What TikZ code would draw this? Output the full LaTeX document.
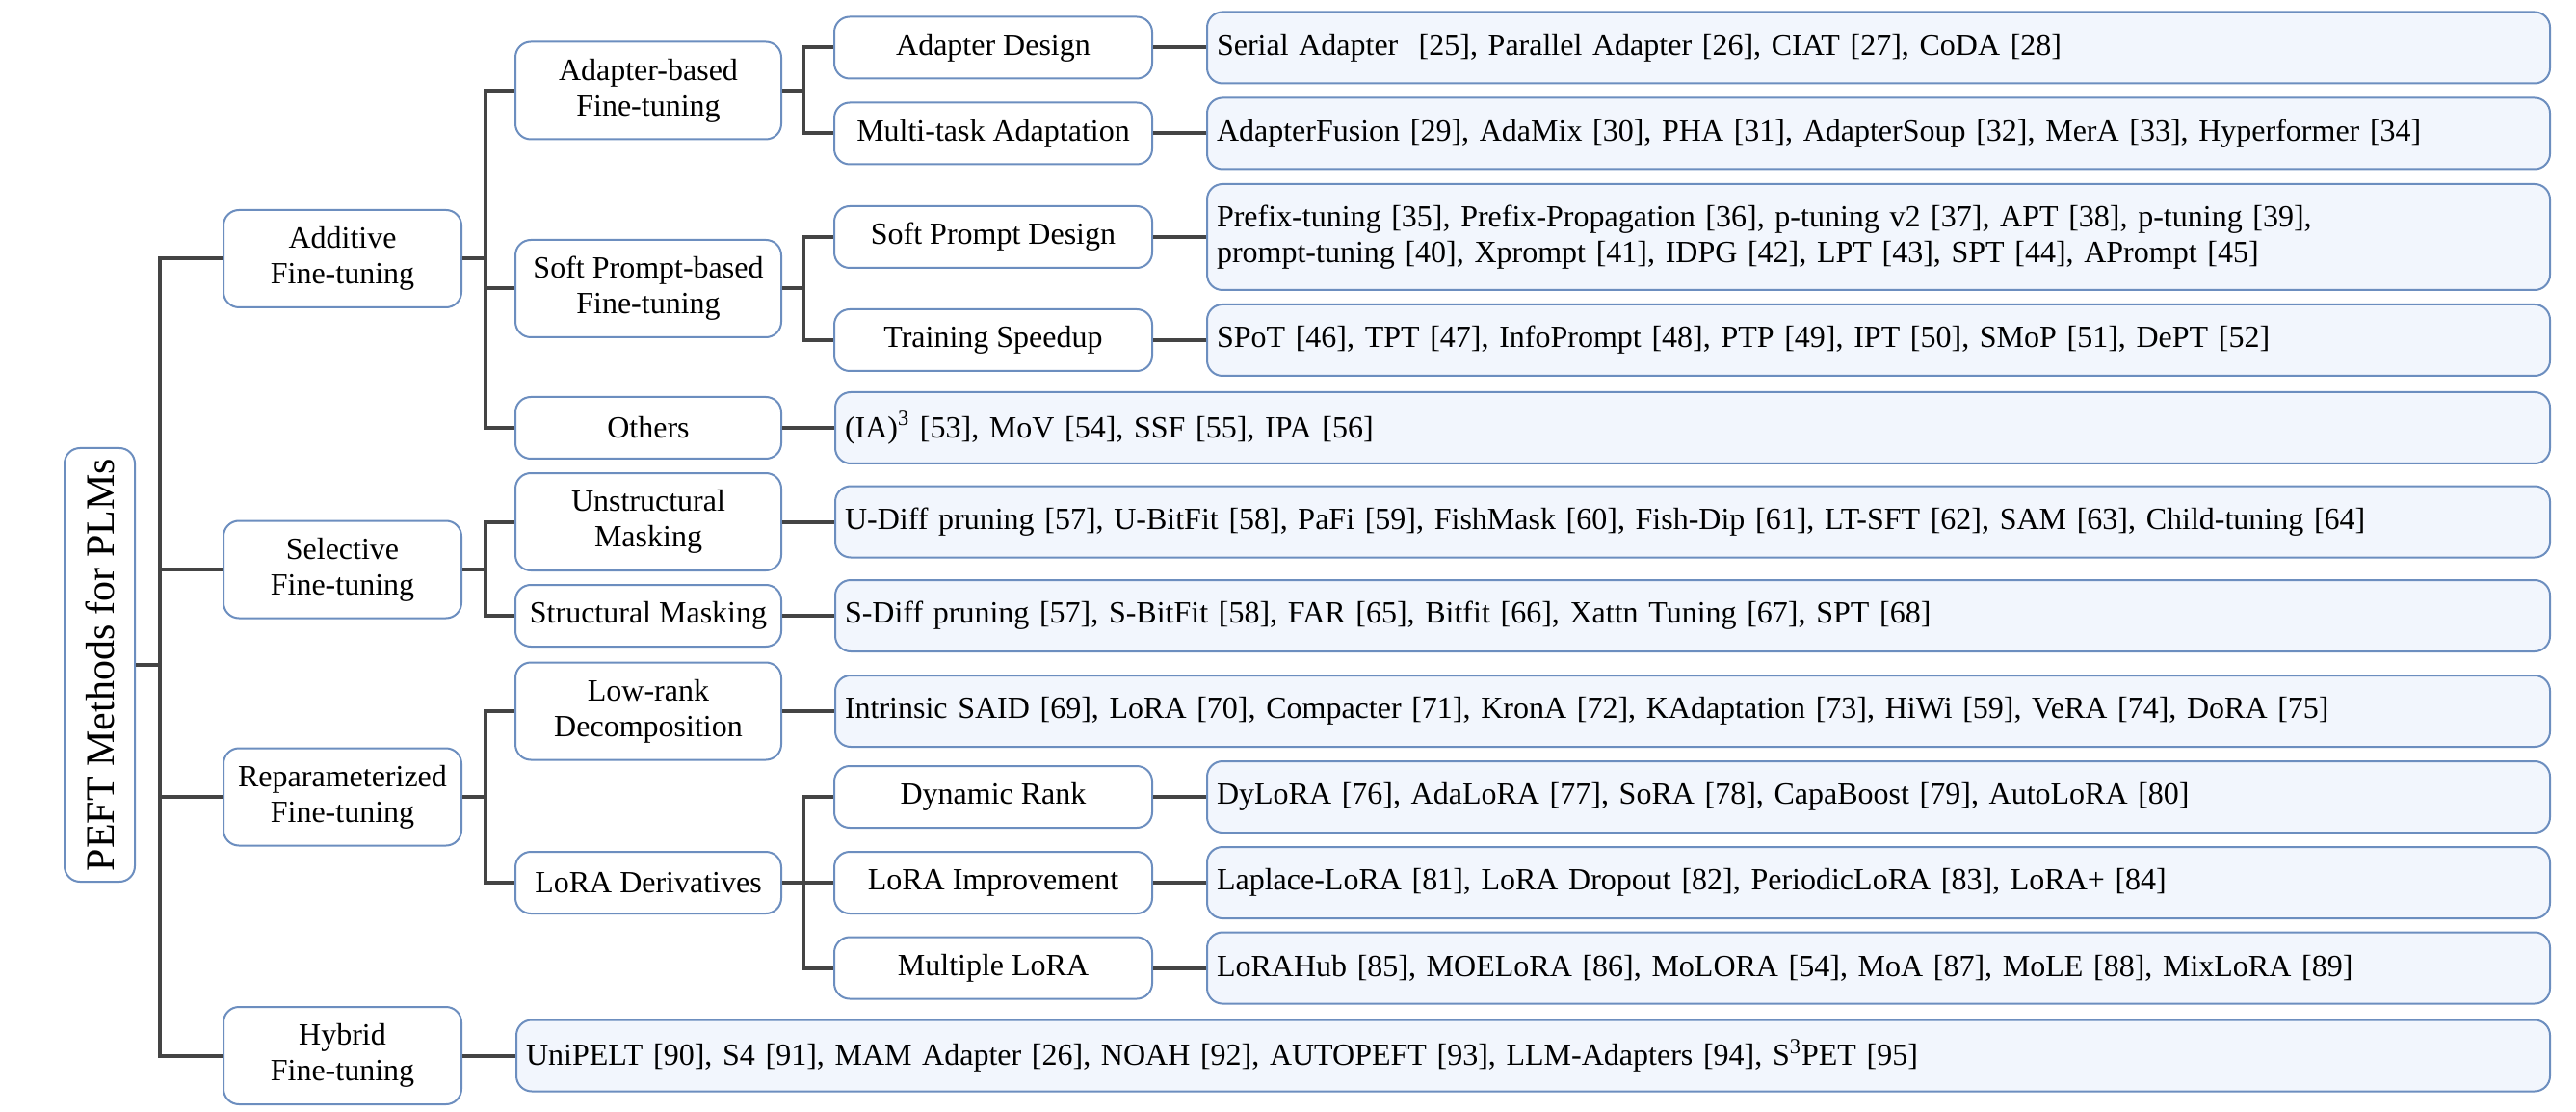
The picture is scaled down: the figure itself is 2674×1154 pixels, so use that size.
\documentclass[tikz,border=0pt]{standalone}
\usepackage{fontspec}
\setmainfont{Liberation Serif}
\definecolor{boxblue}{HTML}{6C8EBF}
\definecolor{leafbg}{HTML}{F2F6FD}
\definecolor{linkgray}{HTML}{444444}

\begin{document}
\begin{tikzpicture}[
        x=0.5pt, y=-0.5pt,
        font=\fontsize{16}{18.4}\selectfont,
        box/.style={draw=boxblue, line width=1pt, rounded corners=8pt, fill=white, align=center, inner sep=0pt},
        root/.style={box, rotate=90, minimum width=225pt, minimum height=36.5pt, font=\fontsize{21}{24}\selectfont},
        cat/.style={box, minimum width=123.5pt, minimum height=50.5pt},
        sub/.style={box, minimum width=138pt, minimum height=#1},
        sub/.default=50.5pt,
        subsub/.style={box, minimum width=165pt, minimum height=32pt},
        leaf/.style={box, fill=leafbg, anchor=west, align=left, inner xsep=5pt, text width=#1, minimum height=37pt},
        link/.style={draw=linkgray, line width=2pt},
    ]
    \useasboundingbox (0,0) rectangle (2674,1154);

    % 根节点
    \node[root] (root) at (103.5,690) {PEFT Methods for PLMs};

    % 第一层
    \node[cat] (add) at (355.5,268.5) {Additive\\Fine-tuning};
    \node[cat] (sel) at (355.5,591) {Selective\\Fine-tuning};
    \node[cat] (rep) at (355.5,827) {Reparameterized\\Fine-tuning};
    \node[cat] (hyb) at (355.5,1095.5) {Hybrid\\Fine-tuning};

    % 第二层
    \node[sub] (adb) at (673,94) {Adapter-based\\Fine-tuning};
    \node[sub] (spb) at (673,299.5) {Soft Prompt-based\\Fine-tuning};
    \node[sub=32pt] (oth) at (673,444) {Others};
    \node[sub] (unm) at (673,541.5) {Unstructural\\Masking};
    \node[sub=32pt] (stm) at (673,639) {Structural Masking};
    \node[sub] (lrd) at (673,738) {Low-rank\\Decomposition};
    \node[sub=32pt] (lod) at (673,916) {LoRA Derivatives};

    % 第三层
    \node[subsub] (ad) at (1031,49.5) {Adapter Design};
    \node[subsub] (mta) at (1031,138.5) {Multi-task Adaptation};
    \node[subsub] (spd) at (1031,246) {Soft Prompt Design};
    \node[subsub] (tsu) at (1031,353) {Training Speedup};
    \node[subsub] (dyr) at (1031,827) {Dynamic Rank};
    \node[subsub] (lim) at (1031,916) {LoRA Improvement};
    \node[subsub] (mlr) at (1031,1004.5) {Multiple LoRA};

    % 方法列表
    \node[leaf=687pt] (ad-l) at (1252,49.5) {Serial Adapter~ [25], Parallel Adapter [26], CIAT [27], CoDA [28]};
    \node[leaf=687pt] (mta-l) at (1252,138.5) {AdapterFusion [29], AdaMix [30], PHA [31], AdapterSoup [32], MerA [33], Hyperformer [34]};
    \node[leaf=687pt, minimum height=55pt] (spd-l) at (1252,246) {Prefix-tuning [35], Prefix-Propagation [36], p-tuning v2 [37], APT [38], p-tuning [39],\\prompt-tuning [40], Xprompt [41], IDPG [42], LPT [43], SPT [44], APrompt [45]};
    \node[leaf=687pt] (tsu-l) at (1252,353) {SPoT [46], TPT [47], InfoPrompt [48], PTP [49], IPT [50], SMoP [51], DePT [52]};
    \node[leaf=880pt] (oth-l) at (866,444) {(IA)\textsuperscript{3} [53], MoV [54], SSF [55], IPA [56]};
    \node[leaf=880pt] (unm-l) at (866,541.5) {U-Diff pruning [57], U-BitFit [58], PaFi [59], FishMask [60], Fish-Dip [61], LT-SFT [62], SAM [63], Child-tuning [64]};
    \node[leaf=880pt] (stm-l) at (866,639) {S-Diff pruning [57], S-BitFit [58], FAR [65], Bitfit [66], Xattn Tuning [67], SPT [68]};
    \node[leaf=880pt] (lrd-l) at (866,738) {Intrinsic SAID [69], LoRA [70], Compacter [71], KronA [72], KAdaptation [73], HiWi [59], VeRA [74], DoRA [75]};
    \node[leaf=687pt] (dyr-l) at (1252,827) {DyLoRA [76], AdaLoRA [77], SoRA [78], CapaBoost [79], AutoLoRA [80]};
    \node[leaf=687pt] (lim-l) at (1252,916) {Laplace-LoRA [81], LoRA Dropout [82], PeriodicLoRA [83], LoRA+ [84]};
    \node[leaf=687pt] (mlr-l) at (1252,1004.5) {LoRAHub [85], MOELoRA [86], MoLORA [54], MoA [87], MoLE [88], MixLoRA [89]};
    \node[leaf=1045.5pt] (hyb-l) at (535,1095.5) {UniPELT [90], S4 [91], MAM Adapter [26], NOAH [92], AUTOPEFT [93], LLM-Adapters [94], S\textsuperscript{3}PET [95]};

    % 连接:根 -> 第一层
    \foreach \c in {add,sel,rep,hyb}
        \draw[link] (root.south) -- ++(25,0) |- (\c.west);

    % 连接:第一层 -> 第二层
    \foreach \c in {adb,spb,oth}
        \draw[link] (add.east) -- ++(24,0) |- (\c.west);
    \foreach \c in {unm,stm}
        \draw[link] (sel.east) -- ++(24,0) |- (\c.west);
    \foreach \c in {lrd,lod}
        \draw[link] (rep.east) -- ++(24,0) |- (\c.west);
    \draw[link] (hyb.east) -- (hyb-l.west);

    % 连接:第二层 -> 第三层
    \foreach \c in {ad,mta}
        \draw[link] (adb.east) -- ++(22,0) |- (\c.west);
    \foreach \c in {spd,tsu}
        \draw[link] (spb.east) -- ++(22,0) |- (\c.west);
    \foreach \c in {dyr,lim,mlr}
        \draw[link] (lod.east) -- ++(22,0) |- (\c.west);

    % 连接:到方法列表
    \foreach \c in {ad,mta,spd,tsu,oth,unm,stm,lrd,dyr,lim,mlr}
        \draw[link] (\c.east) -- (\c-l.west);

\end{tikzpicture}
\end{document}
